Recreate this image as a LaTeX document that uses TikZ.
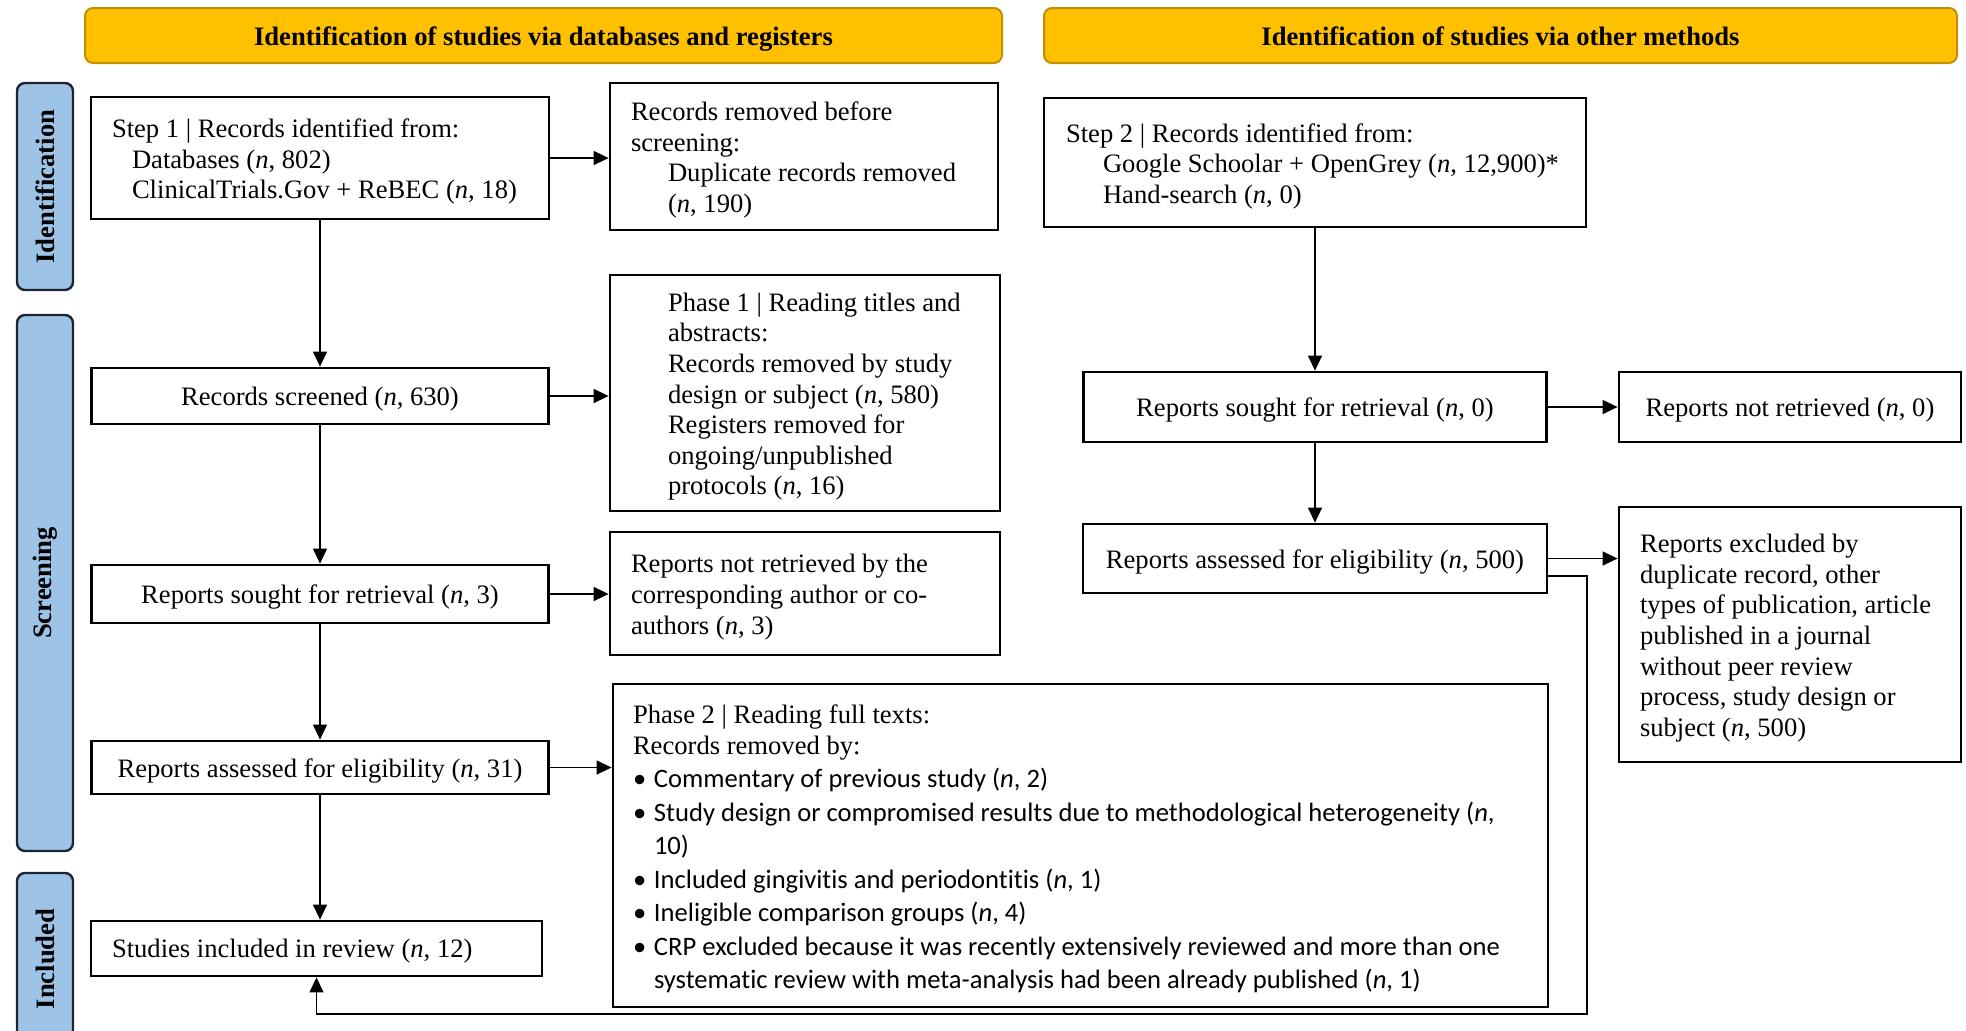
\documentclass[tikz,border=0pt]{standalone}
\usepackage{fontspec}
\setmainfont{Liberation Serif}
\newfontfamily\calib{Carlito}[Ligatures=NoCommon]
\usetikzlibrary{arrows.meta, positioning}
\definecolor{hdrfill}{HTML}{FFC000}
\definecolor{hdrline}{HTML}{BF9000}
\definecolor{sidefill}{HTML}{9DC3E6}
\definecolor{sideline}{HTML}{1E2530}
\newcommand{\ind}{\hspace*{18.5pt}}
\newcommand{\bul}{\makebox[10.5pt][l]{•}}
\newcommand{\boxtail}{\par\kern-3.6pt}
\begin{document}
\begin{tikzpicture}[x=0.5pt, y=-0.5pt, font=\fontsize{13.3}{15.3}\selectfont,
  box/.style={draw, line width=1.4pt, align=center, inner sep=0pt},
  cbox/.style={box, text height=9.5pt, text depth=0pt},
  tbox/.style={box, align=left, execute at begin node={\leftskip=#1\relax\spaceskip=0pt\xspaceskip=0pt},
    execute at end node={\boxtail}},
  hdr/.style={draw=hdrline, fill=hdrfill, line width=1pt, rounded corners=4pt, minimum height=27.5pt,
    text height=9.5pt, text depth=0pt, font=\fontsize{13.3}{15.3}\selectfont\bfseries},
  side/.style={draw=sideline, fill=sidefill, line width=1.2pt, rounded corners=4pt, rotate=90,
    minimum height=28pt, inner sep=0pt, font=\fontsize{13.3}{15.3}\selectfont\bfseries},
  arr/.style={-{Triangle[length=7.5pt,width=7pt]}, line width=0.7pt}]
\useasboundingbox (0,0) rectangle (1966,1030);
% headers
\node[hdr, minimum width=458.5pt] (hdrdb) at (543.5,35.5) {Identification of studies via databases and registers};
\node[hdr, minimum width=456.5pt] (hdrot) at (1500.5,35.5) {Identification of studies via other methods};
% stage labels
\node[side, minimum width=103.5pt] (sideid) at (45,186.5) {Identification};
\node[side, minimum width=268pt] (sidescr) at (45,583) {Screening};
\node[side, minimum width=86pt] (sideinc) at (45,959) {Included};
% databases and registers
\node[tbox=10.5pt, text width=229pt, minimum height=61pt] (step1) at (320,158)
  {Step 1 | Records identified from:\\ \hspace*{10pt}Databases (\textit{n}, 802)\\
   \hspace*{10pt}ClinicalTrials.Gov + ReBEC (\textit{n}, 18)};
\node[tbox=10.5pt, text width=194pt, minimum height=73.5pt] (dup) at (804,156.5)
  {Records removed before\\ screening:\\ \ind Duplicate records removed\\ \ind(\textit{n}, 190)};
\node[cbox, minimum width=228.5pt, minimum height=28pt] (screened) at (320,396) {Records screened (\textit{n}, 630)};
\node[tbox=29pt, text width=195pt, minimum height=118pt] (phase1) at (805,393)
  {Phase 1 | Reading titles and\\ abstracts:\\ Records removed by study\\ design or subject (\textit{n}, 580)\\
   Registers removed for\\ ongoing/unpublished\\ protocols (\textit{n}, 16)};
\node[cbox, minimum width=228.5pt, minimum height=29pt] (sought1) at (320,594) {Reports sought for retrieval (\textit{n}, 3)};
\node[tbox=10.5pt, text width=195pt, minimum height=61.5pt] (notret1) at (805,593.5)
  {Reports not retrieved by the\\ corresponding author or co-\\ authors (\textit{n}, 3)};
\node[cbox, minimum width=228.5pt, minimum height=26.5pt] (assess1) at (320,767.5) {Reports assessed for eligibility (\textit{n}, 31)};
\node[tbox=10.5pt, text width=225.5pt, minimum height=27.5pt] (incl) at (316.5,948.5) {Studies included in review (\textit{n}, 12)};
\node[tbox=10pt, text width=467.5pt, minimum height=161.5pt] (phase2) at (1080.5,845.5)
  {Phase 2 | Reading full texts:\\ Records removed by:\\
   {\calib\fontsize{13.3}{16.75}\selectfont
   \bul Commentary of previous study (\textit{n}, 2)\\
   \bul Study design or compromised results due to methodological heterogeneity (\textit{n},\\
   \hspace*{10.5pt}10)\\
   \bul Included gingivitis and periodontitis (\textit{n}, 1)\\
   \bul Ineligible comparison groups (\textit{n}, 4)\\
   \bul CRP excluded because it was recently extensively reviewed and more than one\\
   \hspace*{10.5pt}systematic review with meta-analysis had been already published (\textit{n}, 1)\par}};
% other methods
\node[tbox=11pt, text width=271pt, minimum height=64.5pt] (step2) at (1315,162.5)
  {Step 2 | Records identified from:\\ \ind Google Schoolar + OpenGrey (\textit{n}, 12,900)*\\ \ind Hand-search (\textit{n}, 0)};
\node[cbox, minimum width=231.5pt, minimum height=35pt] (sought2) at (1315,407) {Reports sought for retrieval (\textit{n}, 0)};
\node[cbox, minimum width=171pt, minimum height=35pt] (notret2) at (1790,407) {Reports not retrieved (\textit{n}, 0)};
\node[cbox, minimum width=232pt, minimum height=34.5pt] (assess2) at (1315,558.5) {Reports assessed for eligibility (\textit{n}, 500)};
\node[tbox=10.5pt, text width=171pt, minimum height=127.5pt] (excl) at (1790,634.5)
  {Reports excluded by\\ duplicate record, other\\ types of publication, article\\ published in a journal\\
   without peer review\\ process, study design or\\ subject (\textit{n}, 500)};
% connectors
\draw[arr] (step1.east) -- (step1.east -| dup.west);
\draw[arr] (step1) -- (screened);
\draw[arr] (screened.east) -- (screened.east -| phase1.west);
\draw[arr] (screened) -- (sought1);
\draw[arr] (sought1.east) -- (sought1.east -| notret1.west);
\draw[arr] (sought1) -- (assess1);
\draw[arr] (assess1.east) -- (assess1.east -| phase2.west);
\draw[arr] (assess1) -- (assess1 |- incl.north);
\draw[arr] (step2) -- (sought2);
\draw[arr] (sought2.east) -- (sought2.east -| notret2.west);
\draw[arr] (sought2) -- (assess2);
\draw[arr] (assess2.east) -- (assess2.east -| excl.west);
\coordinate (back) at (1587,1014);
\draw[arr] ([yshift=-8.75pt]assess2.east) -| (back) -| (incl.south);
\end{tikzpicture}
\end{document}
